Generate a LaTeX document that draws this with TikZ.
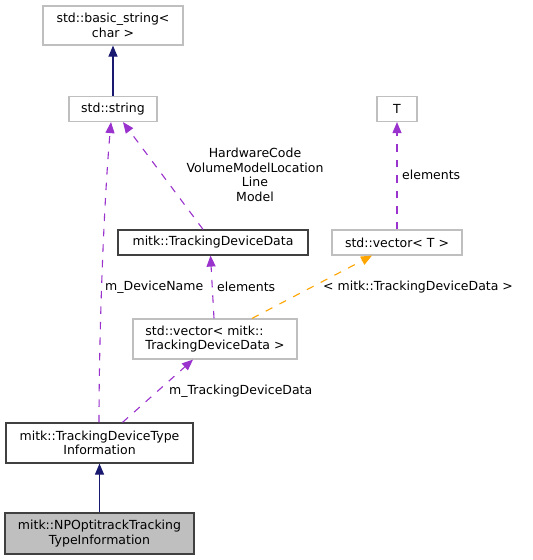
\documentclass[tikz,border=0pt]{standalone}
\usepackage{fontspec}
\setmainfont{DejaVu Sans}
\usetikzlibrary{arrows.meta}
\definecolor{navyedge}{HTML}{191970}
\definecolor{purpleedge}{HTML}{9A32CD}
\definecolor{orangeedge}{HTML}{FFA500}
\definecolor{grayline}{HTML}{BFBFBF}
\definecolor{grayfill}{HTML}{BFBFBF}
\definecolor{darkline}{HTML}{404040}
\begin{document}
\begin{tikzpicture}[x=1pt,y=-1pt,
  txt/.style={font=\fontsize{12.5}{14.5}\selectfont, text=black},
  box/.style={txt, draw=grayline, line width=1.2pt, inner sep=0pt, align=center},
  docbox/.style={box, draw=darkline},
  curbox/.style={box, draw=darkline, fill=grayfill},
  lab/.style={txt, inner sep=0pt, anchor=west},
  tip/.style={-{Triangle[length=11pt,width=9pt]}},
  inherit/.style={tip, draw=navyedge, line width=1.1pt},
  usage/.style={tip, draw=purpleedge, line width=1.1pt, dash pattern=on 7.5pt off 8pt},
  templ/.style={tip, draw=orangeedge, line width=1.1pt, dash pattern=on 7.5pt off 8pt}]
\useasboundingbox (0,0) rectangle (533,560);
\fill[white] (0,0) rectangle (533,560);

\node[box, minimum width=140pt, minimum height=39pt] (bs) at (113,25.5) {std::basic\_string<\\char >};
\node[box, minimum width=88pt, minimum height=25pt] (str) at (113,109) {std::string};
\node[box, minimum width=40pt, minimum height=25pt] (T) at (397,109) {T};
\node[docbox, minimum width=190pt, minimum height=25pt] (tdd) at (213,242.5) {mitk::TrackingDeviceData};
\node[box, minimum width=130pt, minimum height=25pt] (vT) at (397,242.5) {std::vector< T >};
\node[box, minimum width=164pt, minimum height=40pt, align=left] (vm) at (215,339) {std::vector< mitk::\\TrackingDeviceData >};
\node[docbox, minimum width=187pt, minimum height=40pt] (tdti) at (99.5,443) {mitk::TrackingDeviceType\\Information};
\node[curbox, minimum width=189pt, minimum height=41pt] (np) at (99.5,533.5) {mitk::NPOptitrackTracking\\TypeInformation};

\coordinate (strL) at ([xshift=-2pt]str.south);
\coordinate (strR) at ([xshift=10pt]str.south);
\coordinate (tdtiA) at ([xshift=-0.5pt]tdti.north);
\coordinate (tdtiB) at ([xshift=23pt]tdti.north);
\coordinate (tddB) at ([xshift=-10pt]tdd.north);
\coordinate (tddT) at ([xshift=-2.5pt]tdd.south);
\coordinate (vmA) at ([xshift=-1pt]vm.north);
\coordinate (vmB) at ([xshift=37pt]vm.north);
\coordinate (vmS) at ([xshift=-22pt]vm.south);
\coordinate (vTS) at ([xshift=-25pt]vT.south);

\draw[inherit] (str.north) -- (bs.south);
\draw[inherit] (np.north) -- (tdti.south);
\draw[usage] (tdtiA) .. controls (99,330) and (104,200) .. (strL);
\draw[usage] (tddB) -- (strR);
\draw[usage] (vT.north) -- (T.south);
\draw[usage] (vmA) -- (tddT);
\draw[usage] (tdtiB) -- (vmS);
\draw[templ] (vmB) -- (vTS);

\node[txt, align=center, inner sep=0pt] (lab1) at (255,175) {HardwareCode\\VolumeModelLocation\\Line\\Model};
\node[lab] (lab2) at (105,287) {m\_DeviceName};
\node[lab] (lab3) at (217,287) {elements};
\node[lab] (lab4) at (323,287) {< mitk::TrackingDeviceData >};
\node[lab] (lab5) at (169,391) {m\_TrackingDeviceData};
\node[lab] (lab6) at (402,175) {elements};
\end{tikzpicture}
\end{document}
